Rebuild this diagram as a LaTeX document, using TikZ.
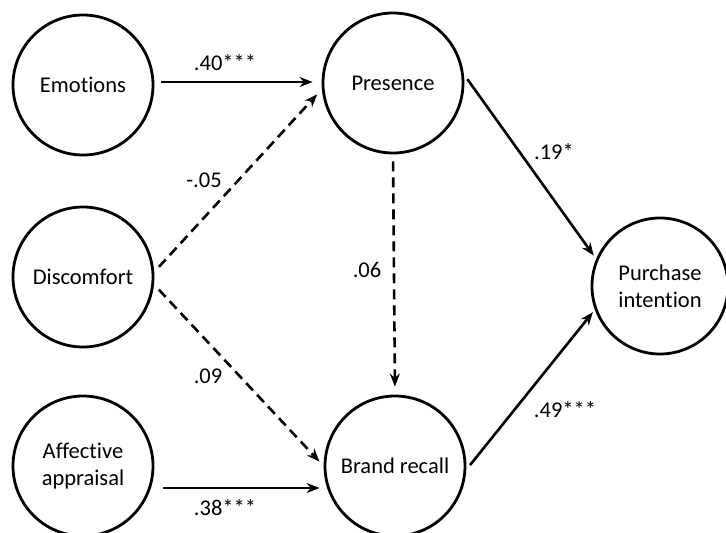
\documentclass[tikz,border=0pt]{standalone}
\usepackage{fontspec}
\setmainfont{Carlito}[Ligatures=NoCommon]
\usetikzlibrary{arrows.meta}
\begin{document}
\begin{tikzpicture}[x=1pt,y=-1pt,
  var/.style={circle,draw,line width=2.8pt,minimum size=140pt,inner sep=0pt,align=center,font=\fontsize{22.5}{27}\selectfont},
  conn/.style={line width=2.6pt,-{Stealth[length=13pt,width=10pt]}},
  dconn/.style={conn,dash pattern=on 10pt off 6pt},
  lbl/.style={font=\fontsize{22.5}{27}\selectfont,inner sep=0pt}]
\useasboundingbox[fill=white] (0,0) rectangle (726,533);
\node[var] (em) at (83,85) {Emotions};
\node[var] (pres) at (393,83) {Presence};
\node[var] (disc) at (83,277) {Discomfort};
\node[var] (aff) at (83,466) {Affective\\appraisal};
\node[var] (br) at (395,466) {Brand recall};
\node[var,minimum size=136pt] (pi) at (660,286) {Purchase\\intention};

\draw[conn] ([xshift=7pt,yshift=3pt]em.east) -- ([xshift=-9pt,yshift=1pt]pres.west);
\draw[dconn,shorten <=7pt,shorten >=7pt] (disc.4) -- (pres.185);
\draw[dconn,shorten <=7pt,shorten >=6pt] (disc.-6) -- (br.180);
\draw[conn] ([shift={(9pt,-22pt)}]aff.east) -- ([shift={(-4pt,-22pt)}]br.west);
\draw[dconn,shorten <=7pt,shorten >=8pt] (pres.south) -- (br.north);
\draw[conn,shorten <=6pt,shorten >=4pt] (pres.7) -- (pi.157);
\draw[conn,shorten <=6pt,shorten >=3pt] (br.-3) -- (pi.200);

\node[lbl] (l1) at (225,63) {.40***};
\node[lbl] (l2) at (204,180) {-.05};
\node[lbl] (l3) at (208,376) {.09};
\node[lbl] (l4) at (225,508) {.38***};
\node[lbl] (l5) at (367,270) {.06};
\node[lbl] (l6) at (554,152) {.19*};
\node[lbl] (l7) at (565,410) {.49***};
\end{tikzpicture}
\end{document}
